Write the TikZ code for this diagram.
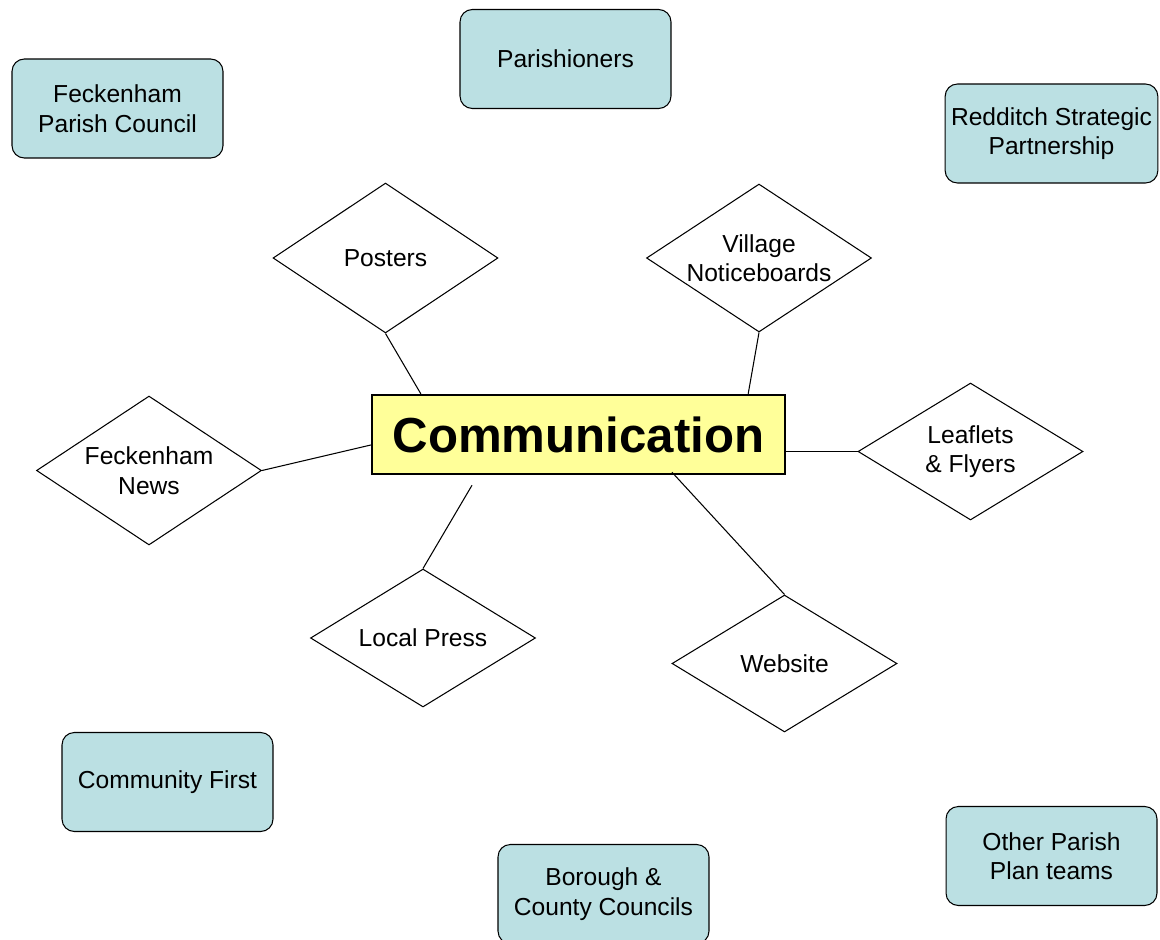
\documentclass[tikz,border=0pt]{standalone}
\usepackage{fontspec}
\setmainfont{Liberation Sans}
\usetikzlibrary{shapes.geometric}
\definecolor{groupfill}{RGB}{187,224,227}
\definecolor{commfill}{RGB}{255,255,153}

\begin{document}
\begin{tikzpicture}[x = 0.02cm, y = -0.02cm, line width = 0.6pt,
		group/.style = {draw, fill = groupfill, rounded corners = 7pt, minimum width = 4.22cm, minimum height = 1.98cm, align = center, font = \fontsize{14}{16.8}\selectfont},
		medium/.style = {draw, diamond, aspect = 1.5, inner sep = 0pt, minimum width = 4.5cm, align = center, font = \fontsize{14}{16.8}\selectfont}]
	\useasboundingbox (0, 0) rectangle (1160, 940);
					\node (fpc) at (117.5, 108.5) [group] {Feckenham\\Parish Council};
					\node (par) at (565.5, 59) [group] {Parishioners};
					\node (rsp) at (1051.5, 133.5) [group] {Redditch Strategic\\Partnership};
					\node (cf) at (167.5, 782) [group] {Community First};
					\node (bcc) at (603.5, 894) [group] {Borough \&\\County Councils};
					\node (opp) at (1051.5, 856) [group] {Other Parish\\Plan teams};
					\node (comm) at (578.5, 434.5) [draw, fill = commfill, line width = 1.4pt, minimum width = 8.26cm, minimum height = 1.58cm, font = \fontsize{28}{33}\selectfont\bfseries] {Communication};
					\node (posters) at (385.5, 258) [medium, minimum height = 3cm] {Posters};
						\draw (posters.south) -- ([xshift = 1cm]comm.north west);
					\node (vn) at (759, 258) [medium, minimum height = 2.96cm] {Village\\Noticeboards};
						\draw (vn.south) -- ([xshift = -0.76cm]comm.north east);
					\node (fn) at (149, 470.5) [medium, minimum height = 2.98cm] {Feckenham\\News};
						\draw (fn.east) -- ([yshift = -0.21cm]comm.west);
					\node (lf) at (970.5, 451.5) [medium, minimum height = 2.74cm] {Leaflets\\\& Flyers};
						\draw (lf.west) -- (comm.east |- lf.west);
					\node (lp) at (423, 638) [medium, minimum height = 2.76cm] {Local Press};
						\coordinate (lpend) at ([shift = {(-2.13cm, -0.2cm)}]comm.south);
						\draw (lp.north) -- (lpend);
					\node (web) at (784.5, 663.5) [medium, minimum height = 2.74cm] {Website};
						\draw (web.north) -- ([shift = {(1.87cm, 0.06cm)}]comm.south);
\end{tikzpicture}
\end{document}
